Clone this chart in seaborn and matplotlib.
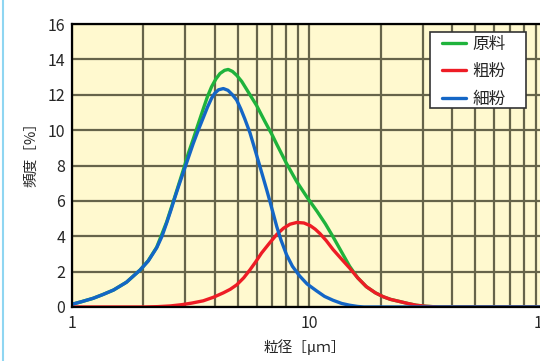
import numpy as np
import pandas as pd
import matplotlib
matplotlib.use('Agg')
import matplotlib.pyplot as plt
from matplotlib.lines import Line2D
from matplotlib.patches import Rectangle
import seaborn as sns

# 読み取り値 (粒径 μm, 頻度 %)
x_raw = [1.0, 1.1, 1.23, 1.35, 1.5, 1.7, 1.94, 2.1, 2.28, 2.51, 2.72, 2.95,
         3.1, 3.25, 3.4, 3.58, 3.73, 3.88, 4.05, 4.21, 4.4, 4.56, 4.75, 4.95,
         5.2, 5.63, 6.0, 6.5, 7.0, 7.3, 8.0, 8.85, 9.8, 10.8, 11.7, 12.6,
         13.7, 14.8, 16.0, 17.4, 19.0, 20.5, 22.0, 24.2, 26.0, 28.2, 31.0,
         35.0, 100.0]
y_raw = [0.15, 0.3, 0.49, 0.7, 0.96, 1.4, 2.09, 2.62, 3.38, 4.8, 6.25, 7.75,
         8.7, 9.5, 10.3, 11.2, 11.9, 12.45, 12.9, 13.2, 13.38, 13.43, 13.32, 13.1,
         12.75, 12.0, 11.4, 10.5, 9.7, 9.2, 8.15, 7.1, 6.2, 5.4, 4.7, 3.97,
         3.1, 2.3, 1.65, 1.15, 0.8, 0.58, 0.43, 0.3, 0.2, 0.1, 0.04,
         0.0, 0.0]

x_coarse = [1.0, 2.0, 2.3, 2.6, 2.9, 3.2, 3.58, 3.95, 4.35, 4.65, 4.95, 5.3,
            5.63, 5.95, 6.3, 6.84, 7.3, 7.79, 8.3, 8.87, 9.5, 10.1, 10.6, 11.1,
            11.8, 12.6, 13.7, 14.8, 16.0, 17.4, 19.0, 20.5, 22.0, 24.2, 26.0,
            28.2, 31.0, 35.0, 100.0]
y_coarse = [0.0, 0.0, 0.02, 0.06, 0.13, 0.22, 0.35, 0.55, 0.8, 1.0, 1.25, 1.65,
            2.1, 2.55, 3.05, 3.65, 4.1, 4.45, 4.68, 4.78, 4.75, 4.6, 4.4, 4.15,
            3.75, 3.25, 2.7, 2.2, 1.65, 1.15, 0.8, 0.58, 0.43, 0.3, 0.2,
            0.1, 0.04, 0.0, 0.0]

x_fine = [1.0, 1.1, 1.23, 1.35, 1.5, 1.7, 1.94, 2.1, 2.28, 2.4, 2.51, 2.62,
          2.72, 2.83, 2.95, 3.1, 3.25, 3.4, 3.58, 3.73, 3.88, 4.0, 4.15, 4.35,
          4.55, 4.75, 4.95, 5.15, 5.35, 5.63, 5.85, 6.0, 6.2, 6.42, 6.63, 6.84,
          7.05, 7.3, 7.6, 8.03, 8.5, 9.12, 9.8, 10.77, 11.6, 12.6, 13.7, 14.8,
          16.0, 17.0, 100.0]
y_fine = [0.15, 0.3, 0.49, 0.7, 0.96, 1.4, 2.09, 2.6, 3.35, 4.0, 4.75, 5.5,
          6.2, 6.9, 7.6, 8.45, 9.25, 9.95, 10.7, 11.3, 11.8, 12.08, 12.28, 12.35,
          12.25, 12.0, 11.7, 11.2, 10.65, 9.85, 9.1, 8.6, 7.95, 7.25, 6.6, 5.95,
          5.3, 4.55, 3.8, 2.95, 2.3, 1.75, 1.3, 0.9, 0.6, 0.38, 0.2, 0.1,
          0.03, 0.0, 0.0]

labels = ['原料', '粗粉', '細粉']
colors = ['#1fb33c', '#ee1c25', '#1466c6']

df = pd.concat([
    pd.DataFrame({'x': x_raw, 'y': y_raw, 's': labels[0]}),
    pd.DataFrame({'x': x_coarse, 'y': y_coarse, 's': labels[1]}),
    pd.DataFrame({'x': x_fine, 'y': y_fine, 's': labels[2]}),
])

sns.set_style('white')
plt.rcParams['font.family'] = ['Noto Sans CJK JP', 'DejaVu Sans']

fig = plt.figure(figsize=(5.4, 3.61), dpi=100)
ax = fig.add_axes([0.1328, 0.1496, 0.8796, 0.7839])
ax.set_facecolor('#fff9cf')

sns.lineplot(data=df, x='x', y='y', hue='s', hue_order=labels, palette=colors,
             linewidth=2.4, ax=ax, legend=False, sort=False, estimator=None)
for ln in ax.lines:
    ln.set_solid_joinstyle('round')
    ln.set_solid_capstyle('round')

ax.set_xscale('log')
ax.set_xlim(1, 100)
ax.set_ylim(0, 16)
ax.set_yticks(range(0, 17, 2))
ax.set_xticks([1, 10, 100])
ax.set_xticklabels(['1', '10', '100'])
ax.xaxis.set_minor_locator(matplotlib.ticker.LogLocator(base=10, subs=np.arange(2, 10)))
ax.xaxis.set_minor_formatter(matplotlib.ticker.NullFormatter())

gc = '#66644a'
ax.grid(True, which='major', axis='both', color=gc, linewidth=1.6)
ax.grid(True, which='minor', axis='x', color=gc, linewidth=1.6)
ax.set_axisbelow(True)

for side in ['left', 'top', 'bottom']:
    ax.spines[side].set_color('black')
    ax.spines[side].set_linewidth(1.6)
ax.spines['right'].set_visible(False)
ax.tick_params(axis='both', which='major', length=3, width=1, color='black',
               labelsize=11.5, pad=1.5)
ax.tick_params(axis='x', which='major', pad=2.5)
ax.tick_params(axis='x', which='minor', length=0)

ax.set_xlabel('粒径［μｍ］', fontsize=10.5)
ax.set_ylabel('頻度［%］', fontsize=10.5)
ax.xaxis.set_label_coords(0.49, -0.115)
ax.yaxis.set_label_coords(-0.07, 0.55)

# 凡例
fig.add_artist(Rectangle((430 / 540, 1 - 108 / 361), 96 / 540, 76 / 361,
                         transform=fig.transFigure, facecolor='white',
                         edgecolor='#333333', linewidth=1.2, zorder=5))
handles = [Line2D([], [], color=c, linewidth=2.4) for c in colors]
leg = fig.legend(handles, labels, loc='upper left', bbox_to_anchor=(437 / 540, 1 - 31 / 361),
                 bbox_transform=fig.transFigure, fontsize=12, frameon=False,
                 handlelength=1.45, handletextpad=0.36,
                 labelspacing=0.62, borderpad=0.3, borderaxespad=0)
leg.set_zorder(6)

fig.add_artist(Line2D([3 / 540, 3 / 540], [0, 1], transform=fig.transFigure,
                      color='#8fd6f2', linewidth=1.5))

fig.savefig('out.png', dpi=100)
